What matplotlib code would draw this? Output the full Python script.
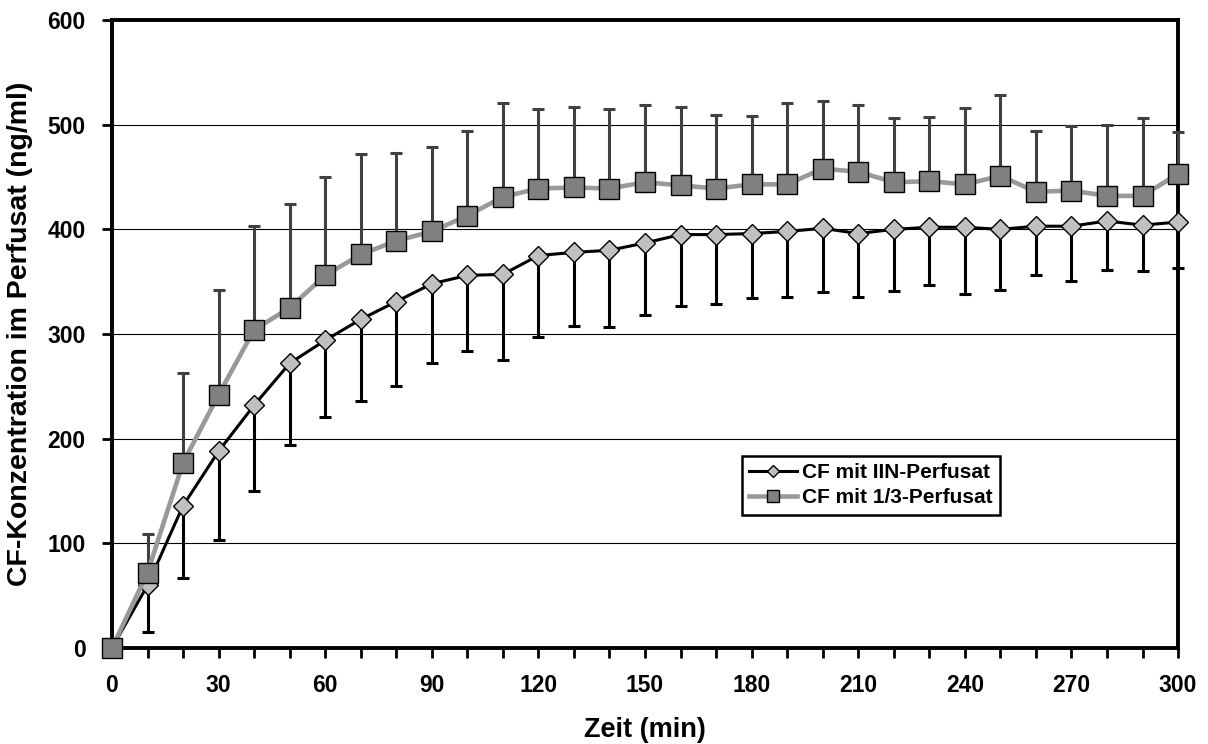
"""
plot.py - CF-Konzentration im Perfusat über die Zeit (zwei Perfusate, mit Fehlerbalken)
"""

import numpy as np
import matplotlib.pyplot as plt

# Zeitpunkte (min)
zeit = [0, 10, 20, 30, 40, 50, 60, 70, 80, 90, 100, 110, 120, 130, 140, 150,
        160, 170, 180, 190, 200, 210, 220, 230, 240, 250, 260, 270, 280, 290, 300]

# CF mit IIN-Perfusat: Mittelwert und untere Fehlergrenze (ng/ml)
iin_mittel = [0, 60, 136, 188, 232, 272, 294, 314, 331, 348, 356, 357, 375, 378, 380, 387,
              395, 395, 396, 398, 401, 396, 400, 402, 402, 400, 403, 403, 408, 404, 407]
iin_unten = [0, 15, 67, 103, 150, 194, 221, 236, 250, 272, 284, 275, 297, 308, 307, 318,
             327, 329, 334, 335, 340, 335, 341, 347, 338, 342, 356, 351, 361, 360, 363]

# CF mit 1/3-Perfusat: Mittelwert und obere Fehlergrenze (ng/ml)
drittel_mittel = [0, 72, 177, 242, 304, 325, 356, 376, 389, 398, 413, 431, 439, 440, 439, 445,
                  442, 439, 443, 443, 458, 455, 445, 446, 443, 451, 436, 437, 432, 432, 453]
drittel_oben = [0, 109, 263, 342, 403, 424, 450, 472, 473, 479, 494, 521, 515, 517, 515, 519,
                517, 509, 508, 521, 523, 519, 506, 507, 516, 528, 494, 499, 500, 506, 493]

labels = ['CF mit IIN-Perfusat', 'CF mit 1/3-Perfusat']


def main():
    plt.rcParams['font.family'] = ['Liberation Sans', 'DejaVu Sans']
    plt.rcParams['font.weight'] = 'bold'

    fig = plt.figure(figsize=(12.08, 7.44), dpi=100)
    ax = fig.add_axes([0.0927, 0.129, 0.8825, 0.8441])

    x = np.array(zeit)

    # Fehlerbalken (nur nach unten bzw. nur nach oben, wie in Excel)
    iin_err = np.array(iin_mittel) - np.array(iin_unten)
    ax.errorbar(x, iin_mittel, yerr=[iin_err, np.zeros_like(iin_err)], fmt='none',
                ecolor='black', elinewidth=2.2, capsize=4.3, capthick=2.2,
                zorder=3, clip_on=False)
    dr_err = np.array(drittel_oben) - np.array(drittel_mittel)
    ax.errorbar(x, drittel_mittel, yerr=[np.zeros_like(dr_err), dr_err], fmt='none',
                ecolor='#404040', elinewidth=2.2, capsize=4.3, capthick=2.2,
                zorder=4, clip_on=False)

    # Linien mit Markern
    ax.plot(x, iin_mittel, color='black', linewidth=2.2, marker='D', markersize=10.5,
            markerfacecolor='#c0c0c0', markeredgecolor='black', markeredgewidth=1.0,
            label=labels[0], zorder=5, clip_on=False)
    ax.plot(x, drittel_mittel, color='#999999', linewidth=3.3, marker='s', markersize=14,
            markerfacecolor='#808080', markeredgecolor='black', markeredgewidth=1.0,
            label=labels[1], zorder=6, clip_on=False)

    # Achsen
    ax.set_xlim(0, 300)
    ax.set_ylim(0, 600)
    ax.set_xticks(range(0, 301, 30))
    ax.set_xticks(range(0, 301, 10), minor=True)
    ax.set_yticks(range(0, 601, 100))
    ax.tick_params(axis='both', which='both', direction='out', width=2, colors='black',
                   labelsize=16.5)
    ax.tick_params(axis='x', which='both', length=7, pad=12)
    ax.tick_params(axis='y', which='major', length=7, pad=12)
    ax.yaxis.grid(True, color='black', linewidth=0.8)
    ax.set_axisbelow(True)
    for sp in ax.spines.values():
        sp.set_linewidth(2.8)
        sp.set_color('black')

    ax.set_xlabel('Zeit (min)', fontsize=19.5, fontweight='bold', labelpad=14)
    ax.set_ylabel('CF-Konzentration im Perfusat (ng/ml)', fontsize=20.5,
                  fontweight='bold', labelpad=10)

    # Legende
    leg = ax.legend(loc='upper left', bbox_to_anchor=(0.591, 0.306), fontsize=15,
                    frameon=True, fancybox=False, framealpha=1, edgecolor='black',
                    markerscale=0.6, handlelength=2.3, handletextpad=0.25,
                    borderpad=0.35, labelspacing=0.3, borderaxespad=0)
    leg.get_frame().set_linewidth(1.8)
    leg.set_zorder(10)

    fig.savefig('out.png', dpi=100)
    plt.close(fig)


if __name__ == '__main__':
    main()
